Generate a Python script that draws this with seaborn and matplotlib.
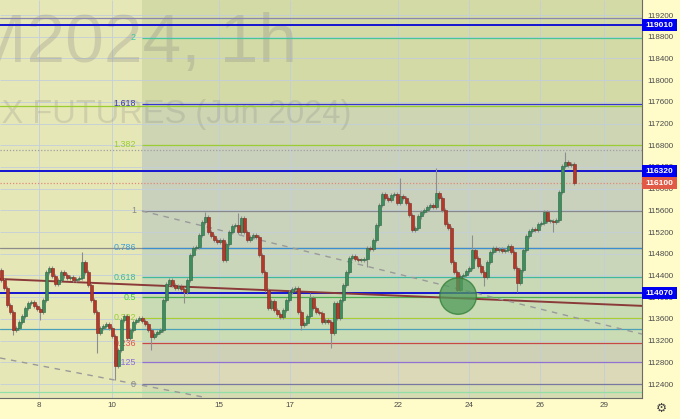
import numpy as np
import pandas as pd
import matplotlib
matplotlib.use("Agg")
import matplotlib.pyplot as plt
import matplotlib.transforms as mtransforms
from matplotlib.patches import Ellipse, Rectangle
import seaborn as sns

# hourly closes (RIM2024, 1h)
closes = [
    114320, 114170, 113860, 113730, 113400, 113430, 113540, 113650, 113800, 113890,
    113910, 113840, 113780, 113730, 113950, 114460, 114540, 114390, 114240, 114320,
    114460, 114400, 114350, 114370, 114320, 114340, 114350, 114650, 114460, 114220,
    113950, 113730, 113340, 113430, 113470, 113510, 113430, 113280, 112730, 113030,
    113580, 113650, 113250, 113400, 113540, 113580, 113620, 113560, 113510, 113400,
    113270, 113320, 113360, 113400, 113950, 114240, 114320, 114220, 114170, 114200,
    114150, 114100, 114320, 114780, 114910, 114920, 115150, 115390, 115480, 115200,
    115130, 115050, 115020, 115050, 114690, 114980, 115200, 115310, 115330, 115200,
    115460, 115200, 115050, 115110, 115150, 115110, 114780, 114460, 114130, 113800,
    113930, 113760, 113690, 113630, 113760, 113950, 114100, 114150, 114170, 113730,
    113490, 113520, 113650, 113990, 113800, 113730, 113710, 113540, 113580, 113540,
    113340, 113890, 113620, 113950, 114220, 114460, 114720, 114760, 114700, 114690,
    114690, 114700, 114910, 114890, 115050, 115330, 115700, 115900, 115830, 115790,
    115880, 115900, 115740, 115860, 115830, 115740, 115510, 115240, 115280, 115490,
    115570, 115610, 115660, 115700, 115660, 115920, 115830, 115610, 115350, 115280,
    114650, 114460, 114130, 114390, 114410, 114480, 114540, 114870, 114720, 114570,
    114460, 114370, 114650, 114830, 114910, 114870, 114890, 114850, 114870, 114940,
    114830, 114540, 114260, 114500, 114870, 115130, 115220, 115260, 115240, 115350,
    115370, 115570, 115400, 115400, 115390, 115420, 115940, 116420, 116490, 116440,
    116460, 116100,
]
first_open = 114500
spike_highs = {27: 114830, 68: 115570, 79: 115550, 103: 114080, 133: 116200,
               145: 116380, 157: 115150, 188: 116680}
spike_lows = {4: 113300, 13: 113580, 32: 112970, 38: 112470, 50: 113030, 61: 113890,
              100: 113400, 110: 113060, 122: 114560, 152: 114100, 161: 114210,
              172: 114100, 184: 115200}

date_labels = ["8", "10", "15", "17", "22", "24", "26", "29"]
date_pos = [12.5, 36.8, 72.5, 96.2, 132.2, 155.8, 179.5, 200.8]
price_ticks = list(range(112400, 119201, 400))

fib_low, fib_high = 112400, 115590
fib_ratios = [0, 0.125, 0.236, 0.382, 0.5, 0.618, 0.786, 1, 1.382, 1.618, 2]
fib_labels = ["0", "0.125", "0.236", "0.382", "0.5", "0.618", "0.786", "1", "1.382", "1.618", "2"]
fib_colors = ["#7878a0", "#9070d0", "#c84848", "#a8cf30", "#4caf50", "#40b8a0",
              "#3b8fd0", "#888888", "#9acd32", "#3434d0", "#45c896"]
fib_text_colors = ["#888888", "#8c6cd8", "#e05050", "#9acd32", "#44cc44", "#3cb8a0",
                   "#3b9fd8", "#888888", "#9acd32", "#3c3cc0", "#3cc8a0"]
fib_fill = ["#dcd9b8", "#cfd1b6", "#cadcb3", "#c9dbb4", "#c9d9b6", "#c9d6ba",
            "#c9d3bc", "#c9d1bd", "#cdd5b2", "#d3daa6"]

marked_levels = [119010, 116320, 114070]
last_price = 116100
thin_levels = [(119150, "#8a86b0"), (117530, "#9acd32"), (114906, "#8c8c8c"),
               (113410, "#4aa0b8"), (112250, "#90e0a8")]
dotted_levels = [(116710, "#a0a0a0"), (116100, "#e08a78")]

trend_brown = ([-0.5, 213.5], [114335, 113840])
trend_dash1 = ([46.8, 213.5], [115590, 113320])
trend_dash2 = ([-0.5, 67.2], [112880, 112160])
circle_center = (152.2, 114020)

# ---------------------------------------------------------------
sns.set_style("white")
plt.rcParams["font.family"] = ["Liberation Sans", "DejaVu Sans"]

df = pd.DataFrame({"close": closes})
df["open"] = [first_open] + closes[:-1]
df["bar"] = np.arange(len(df))
wick_pad = 40
df["high"] = df[["open", "close"]].max(axis=1) + wick_pad
df["low"] = df[["open", "close"]].min(axis=1) - wick_pad
for k, v in spike_highs.items():
    df.loc[k, "high"] = v
for k, v in spike_lows.items():
    df.loc[k, "low"] = v

fig = plt.figure(figsize=(6.8, 4.19), dpi=100, facecolor="#fffcc9")
ax = fig.add_axes([0, 21 / 419, 642 / 680, 398 / 419])
ax.set_facecolor("#e6e7b6")
x0, x1 = -0.5, 213.5
y0, y1 = 112142, 119477
ax.set_xlim(x0, x1)
ax.set_ylim(y0, y1)

# fib zone fills
fib_start = 46.8
levels = [fib_low + r * (fib_high - fib_low) for r in fib_ratios]
edges = [y0] + levels[1:len(levels) - 1] + [y1]
for i, c in enumerate(fib_fill):
    ax.fill_between([fib_start, x1], edges[i], edges[i + 1], color=c, lw=0, zorder=0.3)
ax.fill_between([fib_start, x1], y0, levels[0], color="#d6dcb2", lw=0, zorder=0.35)

# grid
ax.hlines(price_ticks, x0, x1, color="#c3cedb", lw=0.6, zorder=0.8)
ax.vlines(date_pos, y0, y1, color="#c3cedb", lw=0.6, zorder=0.8)

# watermark
ax.text(297 / 642, 1 - 62 / 398, "RIM2024, 1h", transform=ax.transAxes, ha="right",
        va="baseline", fontsize=50, color="#808080", alpha=0.25, zorder=1)
ax.text(351 / 642, 1 - 123 / 398, "RTS INDEX FUTURES (Jun 2024)", transform=ax.transAxes,
        ha="right", va="baseline", fontsize=23.5, color="#808080", alpha=0.22, zorder=1)

# horizontal lines
for lv, c in thin_levels:
    ax.axhline(lv, color=c, lw=0.9, zorder=2)
for lv, c in dotted_levels:
    ax.axhline(lv, color=c, lw=0.9, ls=(0, (1, 1.5)), zorder=2)
for lv in marked_levels:
    ax.axhline(lv, color="#1414d2", lw=1.4, zorder=2.2)

# fib lines + labels
for lv, lab, c, tc in zip(levels, fib_labels, fib_colors, fib_text_colors):
    ax.hlines(lv, fib_start, x1, color=c, lw=0.9, zorder=2.1)
    ax.text(44.8, lv, lab, ha="right", va="center", fontsize=6.4, color=tc, zorder=2.3)

# trend lines
sns.lineplot(x=trend_brown[0], y=trend_brown[1], ax=ax, color="#8b3a3a", lw=1.4, zorder=3)
ax.plot(trend_dash1[0], trend_dash1[1], color="#9a9a9a", lw=1.0, ls=(0, (4, 4)), zorder=3)
ax.plot(trend_dash2[0], trend_dash2[1], color="#9a9a9a", lw=1.0, ls=(0, (4, 4)), zorder=3)

# candles
up = df["close"] >= df["open"]
ax.vlines(df["bar"], df["low"], df["high"], color="#8e8e8e", lw=0.8, zorder=4)
ax.bar(df.loc[up, "bar"], (df.loc[up, "close"] - df.loc[up, "open"]).clip(lower=20),
       bottom=df.loc[up, "open"], width=0.82, color="#3f8c5c", edgecolor="#2a6441",
       lw=0.4, zorder=5)
ax.bar(df.loc[~up, "bar"], (df.loc[~up, "open"] - df.loc[~up, "close"]).clip(lower=20),
       bottom=df.loc[~up, "close"], width=0.82, color="#b5382b", edgecolor="#7a2a20",
       lw=0.4, zorder=5)

# highlight circle
ax.add_patch(Ellipse(circle_center, 12.2, 670, facecolor="#4f9a5a", alpha=0.75,
                     edgecolor="#2e7d32", lw=1.0, zorder=6))

# axes styling
for s in ["top", "left"]:
    ax.spines[s].set_visible(False)
ax.spines["right"].set_color("#6a6a6a")
ax.spines["bottom"].set_color("#6a6a6a")
ax.spines["right"].set_linewidth(0.8)
ax.spines["bottom"].set_linewidth(0.8)
ax.set_axisbelow(True)
ax.yaxis.tick_right()
ax.set_yticks(price_ticks)
ax.set_yticklabels([str(p) for p in price_ticks])
ax.set_xticks(date_pos)
ax.set_xticklabels(date_labels)
ax.tick_params(axis="y", length=0, pad=4, labelsize=5.8, labelcolor="#4a4a4a")
ax.tick_params(axis="x", length=0, pad=3, labelsize=5.8, labelcolor="#4a4a4a")

# price tags on the right scale
blend = mtransforms.blended_transform_factory(ax.transAxes, ax.transData)
tags = [(p, "#0000f0") for p in marked_levels] + [(last_price, "#e05a47")]
for p, c in tags:
    ax.add_patch(Rectangle((1.0, p - 112), 35 / 642, 224, transform=blend,
                           facecolor=c, edgecolor="none", clip_on=False, zorder=10))
    ax.text(1.0 + 17 / 642, p, str(p), transform=blend, ha="center", va="center",
            fontsize=6.0, fontweight="bold", color="white", zorder=11, clip_on=False)

fig.text(661 / 680, 1 - 408 / 419, "\u2699", ha="center", va="center", fontsize=9,
         color="#444444", family="DejaVu Sans")

fig.savefig("out.png", dpi=100, facecolor=fig.get_facecolor())
